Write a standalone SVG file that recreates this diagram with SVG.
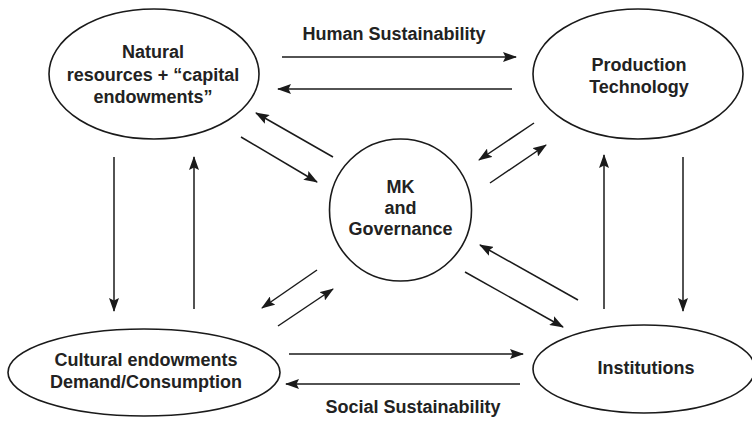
<svg xmlns="http://www.w3.org/2000/svg" width="752" height="422" viewBox="0 0 752 422">
<defs>
<marker id="ah" markerWidth="14" markerHeight="10" refX="13" refY="5" orient="auto" markerUnits="userSpaceOnUse">
<path d="M0,0 L14,5 L0,10 L2.5,5 z" fill="#1a1a1a"/>
</marker>
<style>
.n{fill:#fff;stroke:#1a1a1a;stroke-width:1.6}
.t{font-family:"Liberation Sans",Arial,sans-serif;font-weight:bold;font-size:18px;fill:#222;text-anchor:middle}
.c line{stroke:#1a1a1a;stroke-width:1.5}
</style>
</defs>
<rect width="752" height="422" fill="#fff"/>
<g id="natural">
<ellipse class="n" cx="154" cy="74" rx="105" ry="65"/>
<text class="t" x="153" y="58">Natural</text>
<text class="t" x="153" y="81">resources + “capital</text>
<text class="t" x="153" y="103">endowments”</text>
</g>
<g id="production">
<ellipse class="n" cx="638" cy="74" rx="105" ry="65"/>
<text class="t" x="639" y="71">Production</text>
<text class="t" x="639" y="93">Technology</text>
</g>
<g id="mk">
<circle class="n" cx="400.5" cy="210" r="71"/>
<text class="t" x="400.5" y="193">MK</text>
<text class="t" x="400.5" y="214">and</text>
<text class="t" x="400.5" y="235">Governance</text>
</g>
<g id="cultural">
<ellipse class="n" cx="144" cy="372.5" rx="136" ry="43.5"/>
<text class="t" x="146" y="366">Cultural endowments</text>
<text class="t" x="146" y="388">Demand/Consumption</text>
</g>
<g id="institutions">
<ellipse class="n" cx="644" cy="369" rx="111" ry="44"/>
<text class="t" x="646" y="374">Institutions</text>
</g>
<g id="labels">
<text class="t" x="394" y="40">Human Sustainability</text>
<text class="t" x="413" y="413">Social Sustainability</text>
</g>
<g id="connectors" class="c">
<line x1="282" y1="57" x2="516" y2="57" marker-end="url(#ah)"/>
<line x1="512" y1="89" x2="278" y2="89" marker-end="url(#ah)"/>
<line x1="289" y1="354" x2="523" y2="354" marker-end="url(#ah)"/>
<line x1="520" y1="384" x2="286" y2="384" marker-end="url(#ah)"/>
<line x1="114" y1="157" x2="114" y2="311" marker-end="url(#ah)"/>
<line x1="194" y1="309" x2="194" y2="157" marker-end="url(#ah)"/>
<line x1="604" y1="309" x2="604" y2="155" marker-end="url(#ah)"/>
<line x1="683" y1="157" x2="683" y2="311" marker-end="url(#ah)"/>
<line x1="333" y1="157" x2="256" y2="113" marker-end="url(#ah)"/>
<line x1="241" y1="137" x2="317" y2="182" marker-end="url(#ah)"/>
<line x1="534" y1="123" x2="479" y2="160" marker-end="url(#ah)"/>
<line x1="490" y1="183" x2="546" y2="145" marker-end="url(#ah)"/>
<line x1="317" y1="270" x2="262" y2="308" marker-end="url(#ah)"/>
<line x1="278" y1="326" x2="333" y2="289" marker-end="url(#ah)"/>
<line x1="578" y1="300" x2="480" y2="245" marker-end="url(#ah)"/>
<line x1="465" y1="272" x2="563" y2="327" marker-end="url(#ah)"/>
</g>
</svg>
